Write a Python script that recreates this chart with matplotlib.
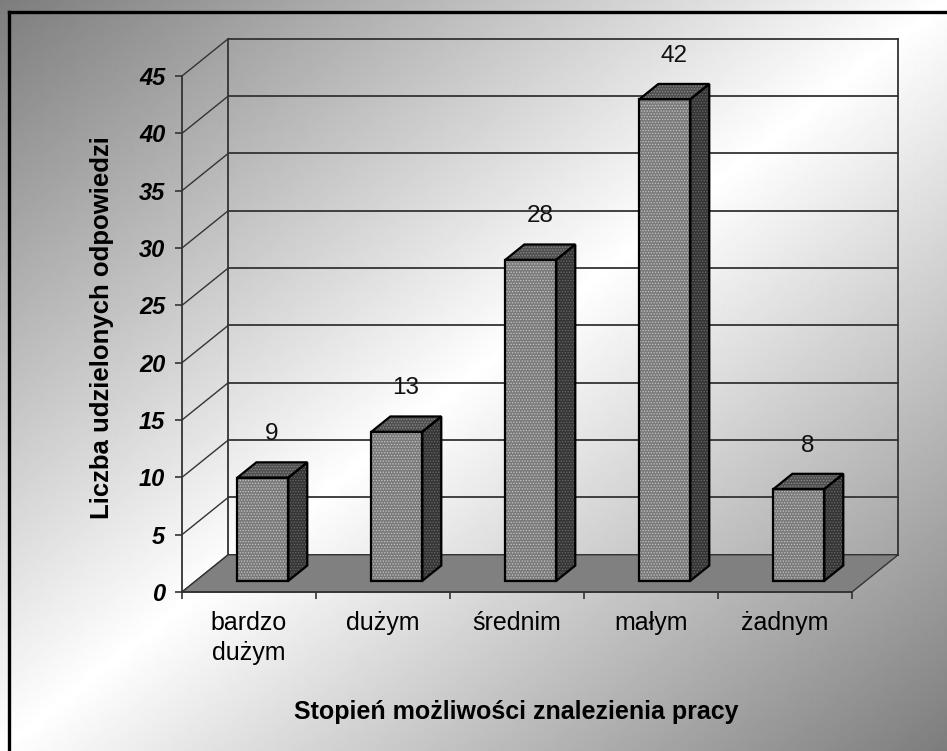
import numpy as np
import matplotlib
matplotlib.use('Agg')
import matplotlib.pyplot as plt
from matplotlib.patches import Polygon
from matplotlib.lines import Line2D

# ---- data ----
categories = ['bardzo\ndużym', 'dużym', 'średnim', 'małym', 'żadnym']
values = [9, 13, 28, 42, 8]
yticks = [0, 5, 10, 15, 20, 25, 30, 35, 40, 45]
x_title = 'Stopień możliwości znalezienia pracy'
y_title = 'Liczba udzielonych odpowiedzi'

plt.rcParams['font.family'] = ['Liberation Sans', 'DejaVu Sans']
plt.rcParams['hatch.linewidth'] = 0.6

W, H = 947, 751
fig = plt.figure(figsize=(W / 100, H / 100), dpi=100)

# background gradient
bg = fig.add_axes([0, 0, 1, 1], zorder=-10)
yy, xx = np.mgrid[0:H, 0:W]
s = xx / (W - 1) + yy / (H - 1)
g = 1 - np.abs(s - 1)
gray = 0.49 + 0.51 * g
bg.imshow(gray, cmap='gray', vmin=0, vmax=1, aspect='auto',
          extent=[0, 1, 0, 1], interpolation='bilinear', origin='upper')
bg.set_axis_off()

# border (top and left visible)
fig.add_artist(Line2D([9 / W, 1], [1 - 12 / H, 1 - 12 / H],
                      transform=fig.transFigure, color='black', lw=2.4))
fig.add_artist(Line2D([9 / W, 9 / W], [0, 1 - 12 / H],
                      transform=fig.transFigure, color='black', lw=2.4))

# main axes (front plane)
ncat = len(categories)
ymax = yticks[-1]
ax = fig.add_axes([182 / W, (H - 592) / H, 670 / W, 516 / H])
ax.set_xlim(0, ncat)
ax.set_ylim(0, ymax)
ax.patch.set_visible(False)
for sp in ['top', 'right']:
    ax.spines[sp].set_visible(False)
for sp in ['left', 'bottom']:
    ax.spines[sp].set_color('#333333')
    ax.spines[sp].set_linewidth(1.3)
    ax.spines[sp].set_zorder(2.5)

DX = 0.345   # depth offset in category units
DY = 3.25    # depth offset in value units
A, B = 0.3, 0.71  # bar depth fractions
HW = 0.19    # bar half width

lc = '#333333'
# gridlines on back wall and side wall
for v in yticks:
    ax.plot([DX, ncat + DX], [v + DY, v + DY], color=lc, lw=1.3, clip_on=False, zorder=1)
    ax.plot([0, DX], [v, v + DY], color=lc, lw=1.0, clip_on=False, zorder=1)
ax.plot([DX, DX], [DY, ymax + DY], color=lc, lw=1.3, clip_on=False, zorder=1)
ax.plot([ncat + DX, ncat + DX], [DY, ymax + DY], color=lc, lw=1.3, clip_on=False, zorder=1)

# floor
floor = Polygon([(0, 0), (ncat, 0), (ncat + DX, DY), (DX, DY)], closed=True,
                facecolor='#808080', edgecolor=lc, lw=1.0, clip_on=False, zorder=2)
ax.add_patch(floor)

# bars
for i, v in enumerate(values):
    c = i + 0.5
    x0 = c - HW + A * DX
    x1 = c + HW + A * DX
    bx0 = c - HW + B * DX
    bx1 = c + HW + B * DX
    y0 = A * DY
    yb = B * DY
    front = [(x0, y0), (x1, y0), (x1, v + y0), (x0, v + y0)]
    top = [(x0, v + y0), (x1, v + y0), (bx1, v + yb), (bx0, v + yb)]
    side = [(x1, y0), (bx1, yb), (bx1, v + yb), (x1, v + y0)]
    for pts, fc, hc in [(side, '#353535', '#6a6a6a'), (top, '#505050', '#8a8a8a'),
                        (front, '#7a7a7a', '#c4c4c4')]:
        ax.add_patch(Polygon(pts, closed=True, facecolor=fc, edgecolor=hc, lw=0,
                             hatch='......', clip_on=False, zorder=3))
        ax.add_patch(Polygon(pts, closed=True, facecolor='none', edgecolor='black',
                             lw=1.6, joinstyle='miter', clip_on=False, zorder=3.1))
    ax.text(c + 0.5 * DX, v + y0 + 3.8, str(v), ha='center', va='center',
            fontsize=17.5, color='#111111', zorder=5, clip_on=False)

# ticks
ax.set_yticks(yticks)
ax.set_yticklabels([str(t) for t in yticks], fontsize=17, fontweight='bold',
                   fontstyle='italic')
ax.set_xticks(range(ncat + 1))
ax.set_xticklabels([])
ax.set_xticks([i + 0.5 for i in range(ncat)], minor=True)
ax.set_xticklabels(categories, minor=True, fontsize=18, linespacing=1.3)
ax.tick_params(axis='both', which='major', direction='out', length=5,
               width=1.2, color=lc)
ax.tick_params(axis='y', pad=7)
ax.tick_params(axis='x', which='minor', length=0, pad=14)

fig.text(516 / W, 1 - 712 / H, x_title, ha='center', va='center',
         fontsize=18, fontweight='bold')
fig.text(102 / W, 1 - 328 / H, y_title, ha='center', va='center',
         fontsize=18.5, fontweight='bold', rotation=90)

fig.savefig('out.png', dpi=100)
